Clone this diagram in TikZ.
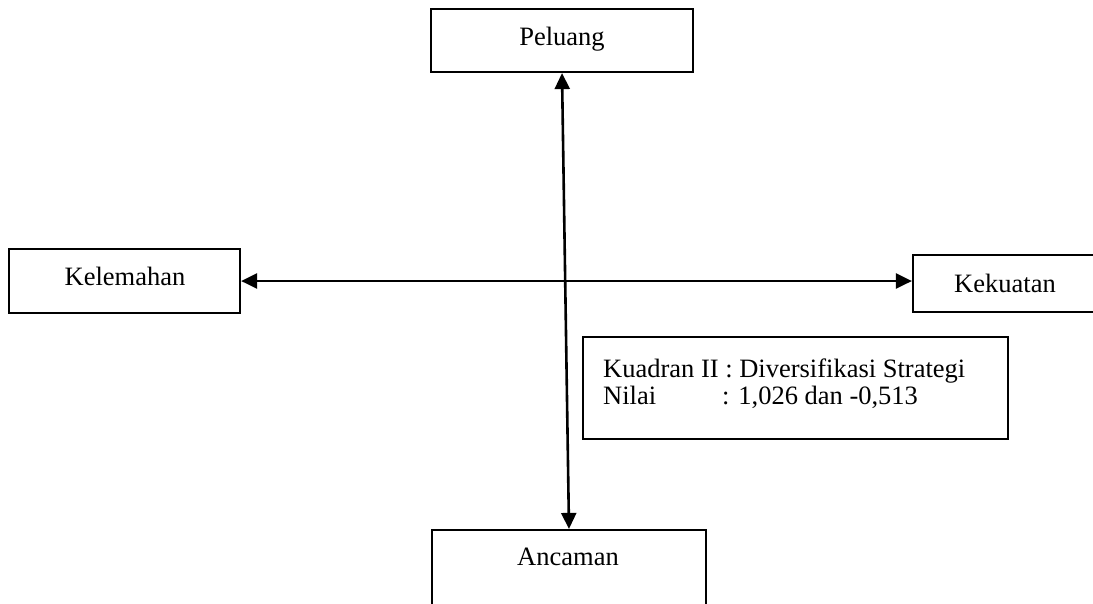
\documentclass[tikz,border=0pt]{standalone}
\usepackage{fontspec}
\setmainfont{Liberation Serif}
\usetikzlibrary{arrows.meta}

\begin{document}
\begin{tikzpicture}[x=1pt, y=-1pt,
  box/.style={draw=black, line width=2.2pt, rectangle, inner sep=0pt},
  lbl/.style={anchor=base, inner sep=0pt, font=\fontsize{26.5pt}{27pt}\selectfont},
  lblw/.style={anchor=base west, inner sep=0pt, font=\fontsize{26.5pt}{27pt}\selectfont},
  axis/.style={draw=black, line width=2.6pt, {Triangle[length=16pt,width=15pt]}-{Triangle[length=16pt,width=15pt]}}
]
\useasboundingbox (0,0) rectangle (1093,603);
\clip (0,0) rectangle (1093,603);

% the four quadrant boxes
\node[box, minimum width=262pt, minimum height=63pt] (pel) at (562,40.5) {};
\node[box, minimum width=231pt, minimum height=64pt] (kel) at (124.5,281) {};
\node[box, minimum width=184pt, minimum height=57pt] (kek) at (1005,283.5) {};
\node[box, minimum width=274pt, minimum height=80pt] (anc) at (569,570) {};

% their labels
\node[lbl] (tpel) at (562,45) {Peluang};
\node[lbl] (tkel) at (125,285) {Kelemahan};
\node[lbl] (tkek) at (1005,292) {Kekuatan};
\node[lbl] (tanc) at (568,565) {Ancaman};

% axes
\draw[axis] (kel.east) -- (kel.east -| kek.west);
\draw[axis] (pel.south) -- (anc.north);

% result box
\node[box, minimum width=425pt, minimum height=102pt] (info) at (795.5,388) {};
\node[lblw] (info1) at (603,377) {Kuadran II : Diversifikasi Strategi};
\node[lblw] (info2) at (603,404) {\makebox[119pt][l]{Nilai}: 1,026 dan -0,513};
\end{tikzpicture}
\end{document}
